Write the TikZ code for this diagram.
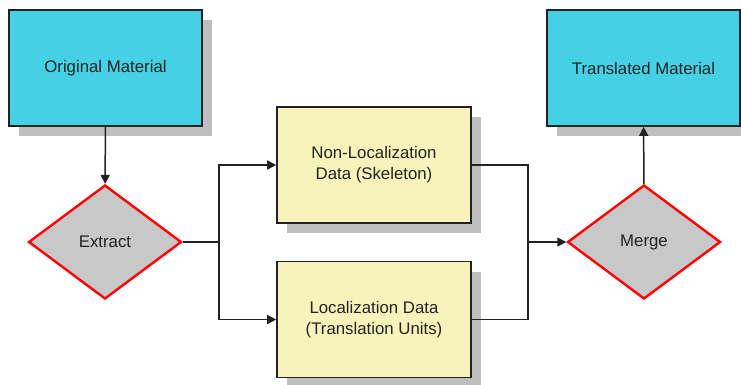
\documentclass[tikz,border=0pt]{standalone}
\usepackage{fontspec}
\setmainfont{Liberation Sans}
\usetikzlibrary{shapes.geometric,shadows,arrows.meta}
\definecolor{cyanbox}{HTML}{44D1E6}
\definecolor{yelbox}{HTML}{F8F3BA}
\definecolor{shade}{HTML}{BFBFBF}
\definecolor{dgray}{HTML}{C8C8C8}
\definecolor{linec}{HTML}{222222}
\tikzset{
  boxbase/.style={rectangle, draw=linec, line width=1.6pt, inner sep=0pt, align=center,
    text=linec, font=\fontsize{16.8}{21}\selectfont,
    drop shadow={shadow xshift=10pt, shadow yshift=-10pt, fill=shade, opacity=1}},
  cyanb/.style={boxbase, fill=cyanbox, minimum width=193pt, minimum height=116pt},
  yelb/.style={boxbase, fill=yelbox, minimum width=194pt, minimum height=116pt},
  dec/.style={diamond, draw=red, line width=2.4pt, fill=dgray, inner sep=0pt,
    text=linec, minimum width=153pt, minimum height=114pt, font=\fontsize{16.8}{21}\selectfont},
  conn/.style={draw=linec, line width=1.5pt},
  arr/.style={conn, -{Triangle[length=9pt,width=9pt]}}
}
\begin{document}
\begin{tikzpicture}[x=1pt,y=-1pt]
\useasboundingbox (0,0) rectangle (741,384);
\node[cyanb] (orig) at (105.5,68) {Original Material};
\node[cyanb] (trans) at (643.5,68) {Translated Material};
\node[yelb] (nonloc) at (374,165) {Non-Localization\\Data (Skeleton)};
\node[yelb] (loc) at (374,319.5) {Localization Data\\(Translation Units)};
\node[dec] (ext) at (105,242) {Extract};
\node[dec] (merge) at (644,242) {Merge};
\coordinate (j1) at (219,242);
\coordinate (j2) at (528,242);
\draw[arr] (orig) -- (ext);
\draw[conn] (ext.east) -- (j1);
\draw[arr] (j1) |- (nonloc.west);
\draw[arr] (j1) |- (loc.west);
\draw[conn] (nonloc.east) -| (j2);
\draw[conn] (loc.east) -| (j2);
\draw[arr] (j2) -- (merge.west);
\draw[arr] (merge) -- (trans);
\end{tikzpicture}
\end{document}
